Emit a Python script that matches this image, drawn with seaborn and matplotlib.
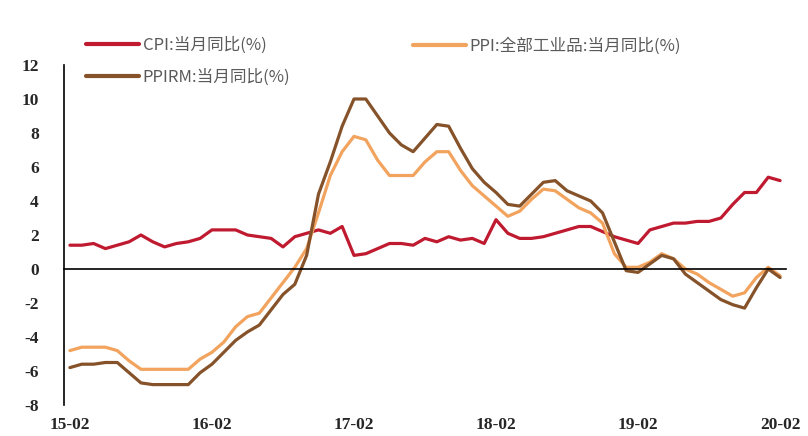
import matplotlib
matplotlib.use("Agg")
import matplotlib.pyplot as plt
import matplotlib.transforms as mtransforms
from matplotlib.lines import Line2D
import pandas as pd
import seaborn as sns

# Monthly year-on-year readings, 2015-02 .. 2020-02
months = [str(p) for p in pd.period_range("2015-02", "2020-02", freq="M")]

cpi = [1.4, 1.4, 1.5, 1.2, 1.4, 1.6, 2.0, 1.6, 1.3, 1.5, 1.6,
       1.8, 2.3, 2.3, 2.3, 2.0, 1.9, 1.8, 1.3, 1.9, 2.1, 2.3, 2.1,
       2.5, 0.8, 0.9, 1.2, 1.5, 1.5, 1.4, 1.8, 1.6, 1.9, 1.7, 1.8,
       1.5, 2.9, 2.1, 1.8, 1.8, 1.9, 2.1, 2.3, 2.5, 2.5, 2.2, 1.9,
       1.7, 1.5, 2.3, 2.5, 2.7, 2.7, 2.8, 2.8, 3.0, 3.8, 4.5, 4.5,
       5.4, 5.2]

ppi = [-4.8, -4.6, -4.6, -4.6, -4.8, -5.4, -5.9, -5.9, -5.9, -5.9, -5.9,
       -5.3, -4.9, -4.3, -3.4, -2.8, -2.6, -1.7, -0.8, 0.1, 1.2, 3.3, 5.5,
       6.9, 7.8, 7.6, 6.4, 5.5, 5.5, 5.5, 6.3, 6.9, 6.9, 5.8, 4.9,
       4.3, 3.7, 3.1, 3.4, 4.1, 4.7, 4.6, 4.1, 3.6, 3.3, 2.7, 0.9,
       0.1, 0.1, 0.4, 0.9, 0.6, 0.0, -0.3, -0.8, -1.2, -1.6, -1.4, -0.5,
       0.1, -0.4]

ppirm = [-5.8, -5.6, -5.6, -5.5, -5.5, -6.1, -6.7, -6.8, -6.8, -6.8, -6.8,
         -6.1, -5.6, -4.9, -4.2, -3.7, -3.3, -2.4, -1.5, -0.9, 0.8, 4.4, 6.3,
         8.4, 10.0, 10.0, 9.0, 8.0, 7.3, 6.9, 7.7, 8.5, 8.4, 7.1, 5.9,
         5.1, 4.5, 3.8, 3.7, 4.4, 5.1, 5.2, 4.6, 4.3, 4.0, 3.3, 1.6,
         -0.1, -0.2, 0.3, 0.8, 0.6, -0.3, -0.8, -1.3, -1.8, -2.1, -2.3, -1.1,
         0.0, -0.5]

series_names = ["CPI:当月同比(%)", "PPI:全部工业品:当月同比(%)", "PPIRM:当月同比(%)"]
series_colors = ["#C01A30", "#F2A35E", "#85522A"]
year_labels = ["15-02", "16-02", "17-02", "18-02", "19-02", "20-02"]
y_ticks = list(range(-8, 13, 2))

df = pd.concat([
    pd.DataFrame({"idx": range(len(months)), "month": months, "value": vals, "series": name})
    for name, vals in zip(series_names, [cpi, ppi, ppirm])
])

sns.set_style("white")
plt.rcParams["font.family"] = ["Noto Sans CJK SC", "DejaVu Sans"]

fig = plt.figure(figsize=(8.08, 4.36), dpi=100)
ax = fig.add_axes([64 / 808, 1 - 405 / 436, 722 / 808, 340 / 436])

sns.lineplot(data=df, x="idx", y="value", hue="series", hue_order=series_names,
             palette=series_colors, linewidth=2.3, ax=ax, legend=False)

ax.set_xlim(-0.5, len(months) - 0.5)
ax.set_ylim(-8, 12)
ax.set_xlabel("")
ax.set_ylabel("")

# y axis on the left, x axis running along zero
for side in ["top", "right"]:
    ax.spines[side].set_visible(False)
ax.spines["left"].set_color("black")
ax.spines["left"].set_linewidth(1.2)
ax.spines["bottom"].set_position(("data", 0))
ax.spines["bottom"].set_color("black")
ax.spines["bottom"].set_linewidth(1.2)

ax.set_yticks(y_ticks)
ax.set_yticklabels([str(v) for v in y_ticks], fontfamily="Liberation Serif",
                   fontweight="bold", fontsize=12.5)
ax.tick_params(axis="y", direction="out", length=6, width=1.2, color="black", pad=12)

year_pos = [months.index("20" + lab[:2] + "-" + lab[3:]) for lab in year_labels]
ax.set_xticks([p - 0.5 for p in year_pos])
ax.set_xticklabels([])
ax.tick_params(axis="x", direction="out", length=5, width=1.2, color="black")

trans = mtransforms.blended_transform_factory(ax.transData, ax.transAxes)
for p, lab in zip(year_pos, year_labels):
    ax.text(p, -0.058, lab, transform=trans, ha="center", va="center",
            fontfamily="Liberation Serif", fontweight="bold", fontsize=12.5,
            clip_on=False)

# legends: CPI / PPIRM stacked on the left, PPI on the right
handles = [Line2D([], [], color=c, linewidth=3) for c in series_colors]
leg_kw = dict(frameon=False, fontsize=12, handlelength=3.2, handletextpad=0.2,
              borderpad=0, borderaxespad=0, labelcolor="#5a5a5a",
              bbox_transform=fig.transFigure)
leg1 = fig.legend([handles[0], handles[2]], [series_names[0], series_names[2]],
                  loc="upper left", bbox_to_anchor=(86 / 808, 1 - 37 / 436),
                  labelspacing=0.85, **leg_kw)
leg2 = fig.legend([handles[1]], [series_names[1]],
                  loc="upper left", bbox_to_anchor=(413 / 808, 1 - 37 / 436), **leg_kw)

fig.savefig("out.png", dpi=100, facecolor="white")
